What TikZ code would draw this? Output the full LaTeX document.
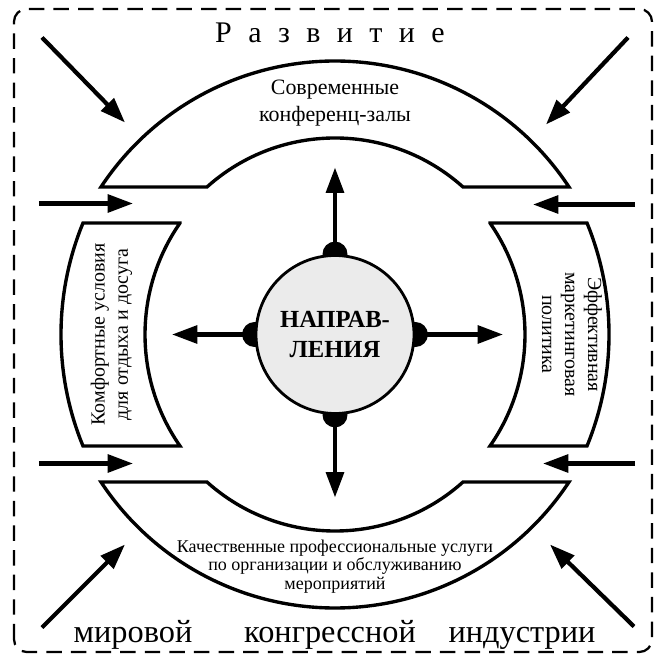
\documentclass[tikz,border=0pt]{standalone}
\usepackage{fontspec}
\setmainfont{Liberation Serif}
\usetikzlibrary{arrows.meta,backgrounds}
\newcommand{\lsp}{\hspace{0.55em}}

\begin{document}
\begin{tikzpicture}[
  x=0.25mm, y=0.25mm,
  frame/.style={draw,line width=1.6pt,dash pattern=on 11pt off 6.5pt,rounded corners=9pt},
  shp/.style  ={draw,line width=2.4pt,fill=white,line join=miter},
  arr/.style  ={line width=3pt,-{Triangle[length=18pt,width=12.5pt]}},
  dirc/.style ={circle,draw,line width=2pt,fill=gray!16,minimum size=39.5mm,
                align=center,inner sep=0pt,font=\bfseries\fontsize{17.5}{22}\selectfont},
  lbl/.style  ={align=center,inner sep=0pt},
  title/.style={inner sep=0pt,font=\fontsize{21.3}{25}\selectfont},
  words/.style={inner sep=0pt,font=\fontsize{23}{28}\selectfont}]

\useasboundingbox (-335,-320.5) rectangle (319,334.5);

% ---------- frame ----------
\draw[frame] (-321,-317.5) rectangle (317,325.5);
\node[title,anchor=base] (dev) at (-5,291.5) {Р\lsp а\lsp з\lsp в\lsp и\lsp т\lsp и\lsp е};
\node[words,anchor=base] (w1) at (-202,-307.5) {мировой};
\node[words,anchor=base] (w2) at (-5,-307.5)   {конгрессной};
\node[words,anchor=base] (w3) at (187,-307.5)  {индустрии};

% ---------- ring segments ----------
\draw[shp] (-234,147.5) arc[start angle=146.6,end angle=33.4,radius=280.3]
  -- (128,147.5) arc[start angle=48.1,end angle=131.9,radius=191.7] -- cycle;
\draw[shp] (-234,-147.5) arc[start angle=-146.6,end angle=-33.4,radius=280.3]
  -- (128,-147.5) arc[start angle=-48.1,end angle=-131.9,radius=191.7] -- cycle;
\draw[shp] (-155,111.5) -- (-252,111.5) arc[start angle=157.67,end angle=202.33,radius=293.5]
  -- (-155,-111.5) arc[start angle=214.85,end angle=145.15,radius=195.1] -- cycle;
\draw[shp] (155,111.5) -- (252,111.5) arc[start angle=22.33,end angle=-22.33,radius=293.5]
  -- (155,-111.5) arc[start angle=-34.85,end angle=34.85,radius=195.1] -- cycle;

\node[lbl,font=\fontsize{15.6}{19.2}\selectfont] (conf) at (0,231)
  {Современные\\конференц-залы};
\node[lbl,font=\fontsize{12.8}{13.2}\selectfont] (serv) at (0,-232)
  {Качественные профессиональные услуги\\по организации и обслуживанию\\мероприятий};
\node[lbl,rotate=90,font=\fontsize{14.2}{16.4}\selectfont] (rest) at (-223.5,0)
  {Комфортные условия\\для отдыха и досуга};
\node[lbl,rotate=-90,font=\fontsize{14.2}{16.4}\selectfont] (mark) at (237,0)
  {Эффективная\\маркетинговая\\политика};

% ---------- centre ----------
\node[dirc] (dir) at (0,0) {НАПРАВ-\\ЛЕНИЯ};
\begin{scope}[on background layer]
\foreach \a in {north,south,east,west} \fill (dir.\a) circle[radius=12.5];
\end{scope}

\coordinate (up) at (0,167);  \coordinate (dn) at (0,-163);
\coordinate (rt) at (168,0);  \coordinate (lt) at (-163,0);
\foreach \a/\b in {north/up,south/dn,east/rt,west/lt}
  \draw[arr] (dir.\a) -- (\b);

% ---------- outer arrows ----------
\coordinate (tlA) at (-293,297);   \coordinate (tlB) at (-210,212);
\coordinate (trA) at (293,297);    \coordinate (trB) at (211,210);
\coordinate (blA) at (-293,-293);  \coordinate (blB) at (-210,-210);
\coordinate (brA) at (299,-292);   \coordinate (brB) at (215,-210);
\coordinate (hlA) at (-296,131);   \coordinate (hlB) at (-202,131);
\coordinate (hrA) at (300,130);    \coordinate (hrB) at (198,130);
\coordinate (llA) at (-296,-129);  \coordinate (llB) at (-202,-129);
\coordinate (lrA) at (300,-129);   \coordinate (lrB) at (208,-129);

\foreach \p in {tl,tr,bl,br,hl,hr,ll,lr}
  \draw[arr] (\p A) -- (\p B);

\end{tikzpicture}
\end{document}
